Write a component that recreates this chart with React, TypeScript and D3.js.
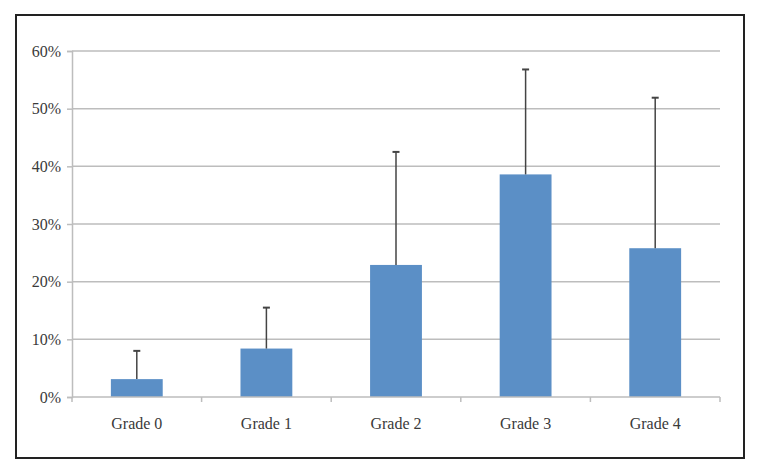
import React, { useRef, useEffect } from 'react';
import * as d3 from 'd3';

const grades = ['Grade 0', 'Grade 1', 'Grade 2', 'Grade 3', 'Grade 4'];
const means = [3.1, 8.4, 22.9, 38.6, 25.8];
const errUpper = [8.0, 15.5, 42.5, 56.8, 51.9];
const yTicks = [0, 10, 20, 30, 40, 50, 60];

const App = () => {
    const svgRef = useRef<SVGSVGElement | null>(null);

    useEffect(() => {
        const svgWidth = 759;
        const svgHeight = 475;
        const margin = { top: 51, right: 39, bottom: 78, left: 72 };

        const svg = d3.select(svgRef.current)
            .attr('width', svgWidth)
            .attr('height', svgHeight);
        svg.selectAll('*').remove();

        // outer frame
        svg.append('rect')
            .attr('x', 16).attr('y', 15)
            .attr('width', 728).attr('height', 443)
            .attr('fill', '#fff')
            .attr('stroke', '#222')
            .attr('stroke-width', 2);

        const x = d3.scaleBand()
            .domain(grades)
            .range([margin.left, svgWidth - margin.right])
            .padding(0);

        const y = d3.scaleLinear()
            .domain([0, 60])
            .range([svgHeight - margin.bottom, margin.top]);

        const grid = '#bdbdbd';
        const font = '"Liberation Serif", "Times New Roman", serif';

        // gridlines
        svg.append('g')
            .selectAll('line')
            .data(yTicks.slice(1))
            .enter()
            .append('line')
            .attr('x1', margin.left).attr('x2', svgWidth - margin.right)
            .attr('y1', (d) => y(d)).attr('y2', (d) => y(d))
            .attr('stroke', grid).attr('stroke-width', 1.5);

        // y axis
        const yAxis = svg.append('g')
            .attr('transform', `translate(${margin.left},0)`)
            .call(d3.axisLeft(y).tickValues(yTicks).tickSize(5).tickPadding(6)
                .tickFormat((d) => `${d}%`));
        yAxis.select('.domain').attr('stroke', grid).attr('stroke-width', 1.5);
        yAxis.selectAll('.tick line').attr('stroke', grid).attr('stroke-width', 1.5);
        yAxis.selectAll('text')
            .attr('fill', '#3a3a3a')
            .style('font-family', font)
            .style('font-size', '16px');

        // bars
        const barW = x.bandwidth() * 0.4;
        svg.append('g')
            .selectAll('rect')
            .data(grades)
            .enter()
            .append('rect')
            .attr('x', (d) => x(d)! + (x.bandwidth() - barW) / 2)
            .attr('y', (d, i) => y(means[i]))
            .attr('width', barW)
            .attr('height', (d, i) => y(0) - y(means[i]))
            .attr('fill', '#5b8fc6');

        // error bars (upper only)
        const err = svg.append('g').attr('stroke', '#444').attr('stroke-width', 1.5);
        grades.forEach((g, i) => {
            const cx = x(g)! + x.bandwidth() / 2;
            err.append('line')
                .attr('x1', cx).attr('x2', cx)
                .attr('y1', y(means[i])).attr('y2', y(errUpper[i]));
            err.append('line')
                .attr('x1', cx - 3.5).attr('x2', cx + 3.5)
                .attr('y1', y(errUpper[i])).attr('y2', y(errUpper[i]))
                .attr('stroke-width', 2);
        });

        // x axis
        const xAxisG = svg.append('g')
            .attr('transform', `translate(0,${y(0)})`);
        xAxisG.append('line')
            .attr('x1', margin.left).attr('x2', svgWidth - margin.right)
            .attr('stroke', grid).attr('stroke-width', 1.5);
        xAxisG.selectAll('line.tick')
            .data(grades.map((g) => x(g)!).concat([svgWidth - margin.right]))
            .enter()
            .append('line')
            .attr('class', 'tick')
            .attr('x1', (d) => d).attr('x2', (d) => d)
            .attr('y1', 0).attr('y2', 5)
            .attr('stroke', grid).attr('stroke-width', 1.5);
        xAxisG.selectAll('text')
            .data(grades)
            .enter()
            .append('text')
            .attr('x', (d) => x(d)! + x.bandwidth() / 2)
            .attr('y', 32)
            .attr('text-anchor', 'middle')
            .attr('fill', '#3a3a3a')
            .style('font-family', font)
            .style('font-size', '16px')
            .text((d) => d);
    }, []);

    return (
        <div style={{ position: 'absolute', left: 0, top: 0 }}>
            <svg ref={svgRef} />
        </div>
    );
};

export default App;
